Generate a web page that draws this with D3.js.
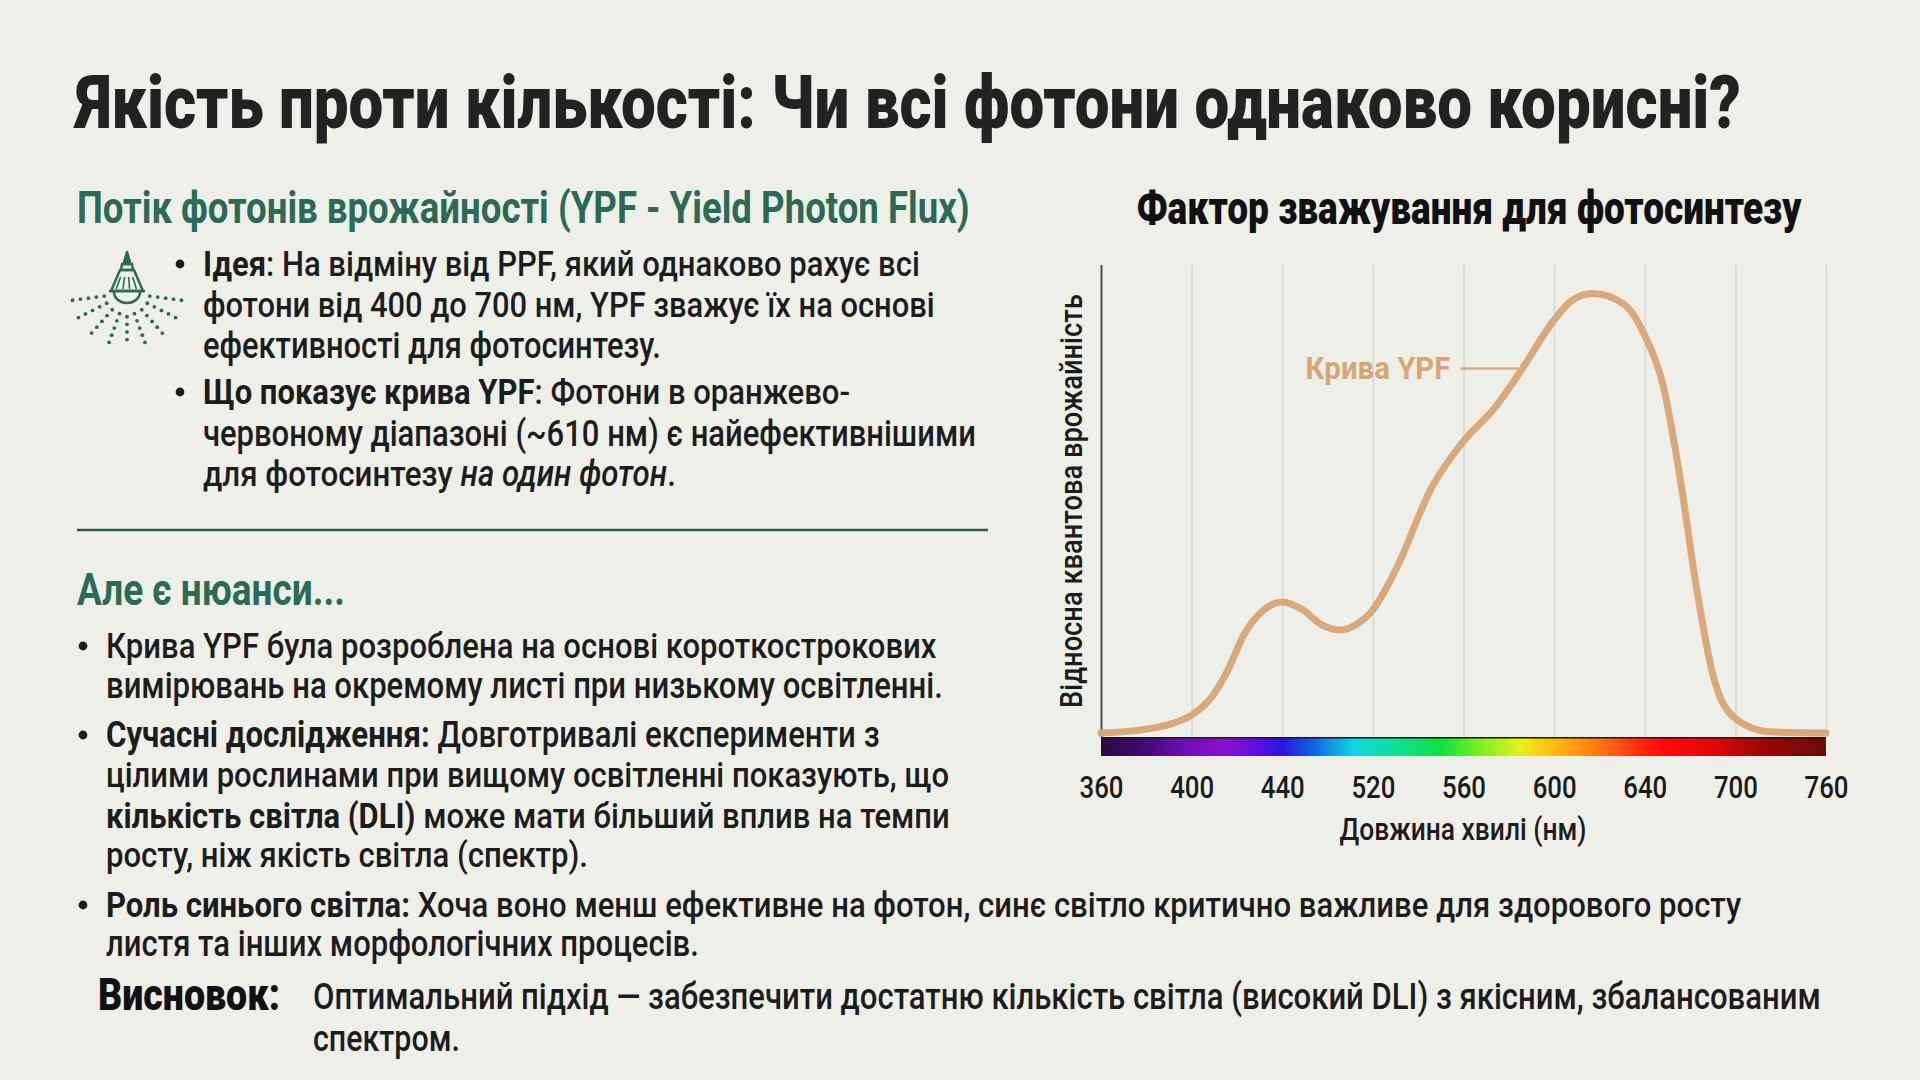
<!DOCTYPE html>
<html>
<head>
<meta charset="utf-8">
<script src="https://cdn.jsdelivr.net/npm/d3@7"></script>
<style>
  html, body { margin: 0; padding: 0; background: #efefea; }
  svg { display: block; }
  text { font-family: Roboto, "Noto Sans", sans-serif; }
</style>
</head>
<body>
<script>
// axis ticks (nm) - evenly spaced along the bar, not a linear scale
var tickLabels = [360, 400, 440, 520, 560, 600, 640, 700, 760];

// YPF curve: wavelength (nm) -> relative quantum yield
var wavelengths = [360, 380, 391, 400, 409, 416, 423, 431, 440, 458, 475, 491, 507, 520, 530, 546, 560, 574, 586, 600, 608, 617, 631, 640, 652, 663, 674, 685, 700, 722, 760];
var yieldValues = [0.002, 0.011, 0.023, 0.043, 0.085, 0.145, 0.225, 0.278, 0.300, 0.282, 0.248, 0.236, 0.251, 0.282, 0.372, 0.56, 0.665, 0.742, 0.83, 0.94, 0.985, 1.0, 0.975, 0.905, 0.794, 0.59, 0.338, 0.136, 0.035, 0.005, 0.002];

// colour bar under the plot
var spectrumOffsets = [0, 0.05, 0.115, 0.17, 0.215, 0.25, 0.29, 0.35, 0.41, 0.47, 0.525, 0.578, 0.62, 0.68, 0.74, 0.775, 0.84, 0.91, 1];
var spectrumColors = ["#2a0a40", "#3a0a6a", "#6a10b0", "#8a10d0", "#5a10e0", "#2a12e0", "#1060e0", "#10d8e0", "#10e090", "#10e040", "#80f020", "#e8f020", "#ffc010", "#ff8010", "#ff3010", "#ff0a0a", "#e00808", "#9a0808", "#6a0a0a"];

var curveLabel = "Крива YPF";
var curveLabelNm = 586;

var W = 1920, H = 1080;
var teal = "#2c6a55", ink = "#1c1c1c", tan = "#d8a97c";

var svg = d3.select("body").append("svg")
    .attr("width", W)
    .attr("height", H);

svg.append("rect").attr("width", W).attr("height", H).attr("fill", "#efefea");

// squeeze a text node horizontally so it spans w pixels (condensed look)
function fit(sel, w) {
  sel.each(function() {
    var len = this.getComputedTextLength();
    var t = d3.select(this).attr("transform") || "";
    d3.select(this).attr("transform", t + " scale(" + (w / len) + ",1)");
  });
  return sel;
}

// runs: plain string, or [text, "b" | "i" | "h"] (h = heavy heading)
function richLine(x, y, runs, size, w, color, anchor) {
  var t = svg.append("text")
      .attr("transform", "translate(" + x + "," + y + ")")
      .attr("text-anchor", anchor || "start")
      .attr("font-size", size)
      .attr("fill", color || ink);
  runs.forEach(function(r) {
    if (typeof r === "string") r = [r, ""];
    t.append("tspan")
        .attr("font-weight", r[1] === "h" ? 900 : r[1] === "b" ? 700 : 500)
        .attr("font-style", r[1] === "i" ? "italic" : "normal")
        .text(r[0]);
  });
  fit(t, w);
  return t;
}

function bullet(x, y) {
  svg.append("circle").attr("cx", x).attr("cy", y - 12).attr("r", 4.4).attr("fill", ink);
}

// ---- headings
richLine(76, 128, [["Якість проти кількості: Чи всі фотони однаково корисні?", "h"]], 75, 1665, "#222");
richLine(77, 223, [["Потік фотонів врожайності (YPF - Yield Photon Flux)", "b"]], 44, 893, teal);
richLine(77, 605, [["Але є нюанси...", "b"]], 44, 268, teal);

svg.append("line")
    .attr("x1", 77).attr("x2", 988)
    .attr("y1", 530).attr("y2", 530)
    .attr("stroke", "#2c5a4c").attr("stroke-width", 2.5);

// ---- first block
var bodySize = 36;
var block1 = [
  {y: 276, b: true, w: 717, runs: [["Ідея", "b"], ": На відміну від PPF, який однаково рахує всі"]},
  {y: 317, w: 732, runs: ["фотони від 400 до 700 нм, YPF зважує їх на основі"]},
  {y: 358, w: 458, runs: ["ефективності для фотосинтезу."]},
  {y: 404, b: true, w: 647, runs: [["Що показує крива YPF", "b"], ": Фотони в оранжево-"]},
  {y: 446, w: 773, runs: ["червоному діапазоні (~610 нм) є найефективнішими"]},
  {y: 486, w: 473, runs: ["для фотосинтезу ", ["на один фотон", "i"], "."]}
];
block1.forEach(function(l) {
  if (l.b) bullet(180, l.y);
  richLine(203, l.y, l.runs, bodySize, l.w);
});

// ---- second block
var block2 = [
  {y: 658, b: true, w: 831, runs: ["Крива YPF була розроблена на основі короткострокових"]},
  {y: 698, w: 837, runs: ["вимірювань на окремому листі при низькому освітленні."]},
  {y: 747, b: true, w: 774, runs: [["Сучасні дослідження:", "b"], " Довготривалі експерименти з"]},
  {y: 787, w: 843, runs: ["цілими рослинами при вищому освітленні показують, що"]},
  {y: 828, w: 844, runs: [["кількість світла (DLI)", "b"], " може мати більший вплив на темпи"]},
  {y: 867, w: 482, runs: ["росту, ніж якість світла (спектр)."]},
  {y: 917, b: true, w: 1636, runs: [["Роль синього світла:", "b"], " Хоча воно менш ефективне на фотон, синє світло критично важливе для здорового росту"]},
  {y: 956, w: 593, runs: ["листя та інших морфологічних процесів."]}
];
block2.forEach(function(l) {
  if (l.b) bullet(83, l.y);
  richLine(106, l.y, l.runs, bodySize, l.w);
});

// ---- conclusion
richLine(98, 1010, [["Висновок:", "h"]], 45, 182, "#111");
richLine(313, 1009, ["Оптимальний підхід — забезпечити достатню кількість світла (високий DLI) з якісним, збалансованим"], bodySize, 1508);
richLine(313, 1051, ["спектром."], bodySize, 147);

// ---- lamp icon
var icon = svg.append("g")
    .attr("fill", "none")
    .attr("stroke", teal)
    .attr("stroke-width", 2.5)
    .attr("stroke-linejoin", "round");
icon.append("path").attr("d", "M127,252 L123.5,264 L130.5,264 Z").attr("fill", teal);
icon.append("path").attr("d", "M122,264 L132,264 L133,270 L121,270 Z");
icon.append("path").attr("d", "M120,270 L134,270 L143,291 L111,291 Z");
[-8, -3, 2, 7].forEach(function(dx) {
  icon.append("line").attr("x1", 127 + dx * 0.8).attr("x2", 127 + dx * 1.35)
      .attr("y1", 277).attr("y2", 289).attr("stroke-width", 1.6);
});
icon.append("line").attr("x1", 109).attr("x2", 145).attr("y1", 291).attr("y2", 291);
icon.append("path").attr("d", "M114,292 A13,11 0 0 0 140,292");
[8, 28, 50, 71, 90, 109, 130, 152, 172].forEach(function(a) {
  var rad = a * Math.PI / 180;
  var rs = (a === 90) ? [25, 33, 41, 49] : [23, 31, 39, 47, 55];
  rs.forEach(function(r) {
    icon.append("circle")
        .attr("cx", 127 + r * Math.cos(rad))
        .attr("cy", 293 + r * Math.sin(rad) * 0.95)
        .attr("r", 1.9)
        .attr("fill", teal)
        .attr("stroke", "none");
  });
});

// ---- chart
var plot = {left: 1101, right: 1826, top: 265, barTop: 737, barH: 19};

var x = d3.scaleLinear()
    .domain(tickLabels)
    .range(tickLabels.map(function(d, i) {
      return plot.left + i * (plot.right - plot.left) / (tickLabels.length - 1);
    }));

var y = d3.scaleLinear()
    .domain([0, 1.065])
    .range([734, plot.top]);

richLine(1469, 224, [["Фактор зважування для фотосинтезу", "h"]], 47, 665, "#111", "middle");

// grid
var grid = svg.append("g")
    .attr("transform", "translate(0," + plot.barTop + ")")
    .call(d3.axisBottom(x).tickValues(tickLabels).tickSize(-(plot.barTop - plot.top)).tickFormat(""));
grid.select(".domain").remove();
grid.selectAll(".tick line").attr("stroke", "#d6d6d1").attr("stroke-width", 1.5);
grid.selectAll(".tick").filter(function(d) { return d === tickLabels[0]; })
    .select("line").attr("stroke", "#4a4a4a").attr("stroke-width", 2);

// spectrum bar
var grad = svg.append("defs").append("linearGradient").attr("id", "spectrum");
grad.selectAll("stop")
    .data(spectrumOffsets)
    .enter().append("stop")
    .attr("offset", function(d) { return d; })
    .attr("stop-color", function(d, i) { return spectrumColors[i]; });

svg.append("rect")
    .attr("x", x(tickLabels[0]))
    .attr("y", plot.barTop)
    .attr("width", x(tickLabels[tickLabels.length - 1]) - x(tickLabels[0]))
    .attr("height", plot.barH)
    .attr("fill", "url(#spectrum)");
svg.append("line")
    .attr("x1", x(tickLabels[0])).attr("x2", x(tickLabels[tickLabels.length - 1]))
    .attr("y1", plot.barTop + 0.8).attr("y2", plot.barTop + 0.8)
    .attr("stroke", "#1a1a1a").attr("stroke-width", 1.6);

// tick labels
var axis = svg.append("g")
    .attr("transform", "translate(0," + (plot.barTop + plot.barH) + ")")
    .call(d3.axisBottom(x).tickValues(tickLabels).tickSize(0).tickPadding(20));
axis.select(".domain").remove();
axis.selectAll("text")
    .attr("font-size", 31)
    .attr("font-family", "Roboto, sans-serif")
    .attr("font-weight", 500)
    .attr("fill", "#1a1a1a")
    .each(function() {
      var k = 44 / this.getComputedTextLength();
      d3.select(this).attr("transform", "scale(" + k + ",1)");
    });

// axis titles
var xt = svg.append("text")
    .attr("text-anchor", "middle")
    .attr("font-size", 32)
    .attr("font-weight", 500)
    .attr("fill", ink)
    .attr("transform", "translate(1463,840)")
    .text("Довжина хвилі (нм)");
fit(xt, 247);

var yt = svg.append("text")
    .attr("text-anchor", "middle")
    .attr("font-size", 32)
    .attr("font-weight", 500)
    .attr("fill", ink)
    .attr("transform", "translate(1082,501) rotate(-90)")
    .text("Відносна квантова врожайність");
fit(yt, 414);

// YPF curve
var pts = wavelengths.map(function(d, i) { return [d, yieldValues[i]]; });
svg.append("path")
    .datum(pts)
    .attr("fill", "none")
    .attr("stroke", tan)
    .attr("stroke-width", 7)
    .attr("stroke-linecap", "round")
    .attr("stroke-linejoin", "round")
    .attr("d", d3.line()
        .x(function(d) { return x(d[0]); })
        .y(function(d) { return y(d[1]); })
        .curve(d3.curveMonotoneX));

// curve annotation
var li = wavelengths.indexOf(curveLabelNm);
var ax = x(curveLabelNm), ay = y(yieldValues[li]);
svg.append("line")
    .attr("x1", ax - 62).attr("x2", ax - 4)
    .attr("y1", ay).attr("y2", ay)
    .attr("stroke", tan).attr("stroke-width", 2.4);
var lt = svg.append("text")
    .attr("text-anchor", "end")
    .attr("font-size", 31)
    .attr("font-weight", 700)
    .attr("fill", "#d6a676")
    .attr("transform", "translate(" + (ax - 72) + "," + (ay + 11) + ")")
    .text(curveLabel);
fit(lt, 145);
</script>
</body>
</html>
